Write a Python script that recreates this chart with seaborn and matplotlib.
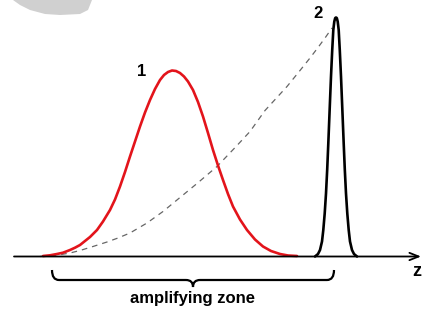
import matplotlib
matplotlib.use("Agg")
import matplotlib.pyplot as plt
import pandas as pd
import seaborn as sns
from matplotlib.path import Path
from matplotlib.patches import PathPatch, Polygon

# pulse 1 (red, broad) - position z vs height above the axis
pulse1_z = [43, 50, 57, 63, 70, 75, 80, 85, 90, 97, 103, 110, 115, 120, 125, 130,
            135, 140, 145, 150, 155, 160, 164, 168, 172, 176, 180, 184, 188, 193,
            198, 203, 208, 213, 218, 223, 228, 233, 240, 247, 255, 263, 271, 280,
            288, 297]
pulse1_h = [0.5, 1.2, 2.5, 3.8, 6.5, 8.8, 11.5, 15.5, 19.5, 26.5, 35, 46.5, 57, 70,
            84.5, 100, 115, 130, 144, 156.5, 167.5, 176.5, 181.5, 184.5, 186, 185.5,
            183.5, 180, 175, 166.5, 154.5, 140, 123.5, 106.5, 91, 76.5, 62.5, 50,
            37, 26.5, 17, 10, 5.5, 2.5, 1, 0.5]

# pulse 2 (black, compressed)
pulse2_z = [315, 318, 320, 322, 323.3, 324.7, 326, 327.2, 328.3, 329.7, 331, 332.2,
            333.3, 334.3, 335.2, 336, 336.8, 337.7, 338.7, 339.8, 341, 342.3, 343.7,
            344.8, 346, 347.3, 348.7, 350, 352, 354, 357]
pulse2_h = [0, 2.5, 6.5, 15, 26.5, 43, 63, 87, 113, 148, 180, 206, 226.5, 235,
            238.5, 239, 238.5, 235, 226.5, 206, 180, 148, 113, 87, 63, 43, 26.5,
            15, 6.5, 2.5, 0]

# dashed gain envelope across the amplifying zone
gain_z = [40, 50, 60, 70, 80, 93, 107, 118, 130, 147, 163, 180, 197, 217, 237,
          250, 265, 276, 287, 300, 310, 318, 325, 332]
gain_h = [0, 0.6, 1.8, 3.5, 6, 10, 14.5, 18.5, 23.5, 33.5, 45, 59, 73, 90, 111,
          125, 146, 158, 170, 186, 198.5, 209, 218.5, 228.5]

zone_start, zone_end = 52, 334
zone_label = "amplifying zone"
pulse_labels = ["1", "2"]

sns.set_theme(style="white")
plt.rcParams["font.family"] = ["Liberation Sans", "DejaVu Sans"]
plt.rcParams["text.color"] = "black"

fig = plt.figure(figsize=(4.22, 3.09), dpi=100)
ax = fig.add_axes([0, 0, 1, 1])
ax.set_xlim(0, 422)
ax.set_ylim(-52.5, 256.5)
ax.set_axis_off()

# faint grey blob in the top-left corner of the original
blob = Polygon([(13, 256.5), (20, 251.5), (30, 246.5), (45, 242.5), (60, 241.5),
                (80, 242.5), (88, 246.5), (92, 256.5)], closed=True,
               facecolor="#d0d0d0", edgecolor="none")
ax.add_patch(blob)

# z axis
ax.annotate("", xy=(421, 0), xytext=(14, 0),
            arrowprops=dict(arrowstyle="->,head_length=0.55,head_width=0.22",
                            lw=1.3, color="black", shrinkA=0, shrinkB=0))
ax.text(412, -15.5, "z", fontsize=13, fontweight="bold", ha="left", va="center")

gain = pd.DataFrame({"z": gain_z, "h": gain_h})
sns.lineplot(data=gain, x="z", y="h", ax=ax, color="#666666", lw=0.9,
             linestyle=(0, (4.5, 4)))

p1 = pd.DataFrame({"z": pulse1_z, "h": pulse1_h})
sns.lineplot(data=p1, x="z", y="h", ax=ax, color="#e3141b", lw=1.9)

p2 = pd.DataFrame({"z": pulse2_z, "h": pulse2_h})
sns.lineplot(data=p2, x="z", y="h", ax=ax, color="black", lw=1.9)

ax.text(142, 184.5, pulse_labels[0], fontsize=12, fontweight="bold", ha="center", va="center")
ax.text(318, 243.5, pulse_labels[1], fontsize=12, fontweight="bold", ha="center", va="center")

# curly brace under the amplifying zone
mid = (zone_start + zone_end) / 2
top, bar, tip = -13.5, -23.5, -30.5
verts = [
    (zone_start, top), (zone_start, bar), (zone_start + 7, bar),
    (mid - 7, bar), (mid, bar), (mid, tip),
    (mid, bar), (mid + 7, bar),
    (zone_end - 7, bar), (zone_end, bar), (zone_end, top),
]
codes = [Path.MOVETO, Path.CURVE3, Path.CURVE3,
         Path.LINETO, Path.CURVE3, Path.CURVE3,
         Path.CURVE3, Path.CURVE3,
         Path.LINETO, Path.CURVE3, Path.CURVE3]
ax.add_patch(PathPatch(Path(verts, codes), facecolor="none", edgecolor="black", lw=1.6))

ax.text(mid, -46.5, zone_label, fontsize=12, fontweight="bold", ha="center", va="baseline")

fig.savefig("out.png", dpi=100)
